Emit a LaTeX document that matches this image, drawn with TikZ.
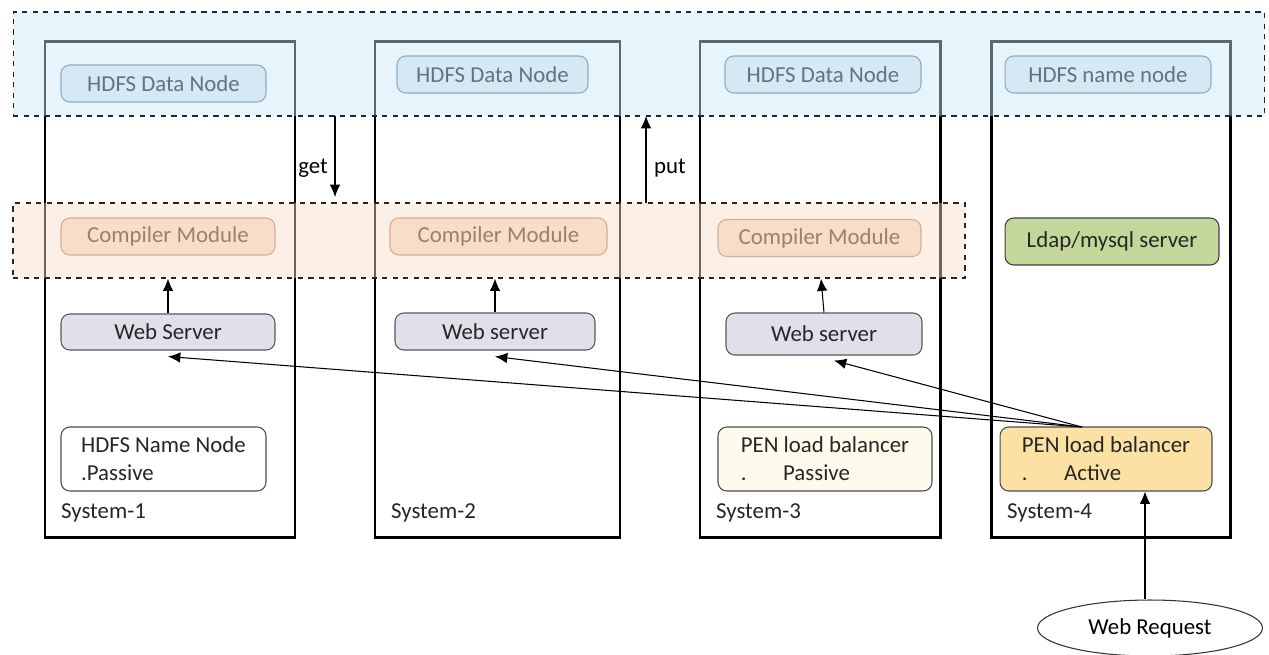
\documentclass[tikz,border=0pt]{standalone}
\usepackage{fontspec}
\setmainfont{Carlito}
\usetikzlibrary{shapes.geometric,arrows.meta}
\definecolor{bandblue}{HTML}{C8E9F9}
\definecolor{bandorange}{HTML}{F9DCC8}
\definecolor{dnfill}{HTML}{D4E9F4}
\definecolor{dndraw}{HTML}{8EABBE}
\definecolor{dntext}{HTML}{5E7385}
\definecolor{cmfill}{HTML}{FADDC8}
\definecolor{cmdraw}{HTML}{D2AE96}
\definecolor{cmtext}{HTML}{9C7F6E}
\definecolor{wsfill}{HTML}{E2DEEA}
\definecolor{ldapfill}{HTML}{C4D79B}
\definecolor{pasfill}{HTML}{FEFBEC}
\definecolor{actfill}{HTML}{FBE1A3}
\tikzset{
  sysbox/.style={draw=black,line width=1.7pt},
  band/.style={draw=black!85,dashed,line width=0.7pt},
  box/.style={rounded corners=5pt,line width=0.6pt,inner sep=0pt,font=\fontsize{13}{15}\selectfont},
  datanode/.style={box,draw=dndraw,fill=dnfill,text=dntext,minimum height=0.74cm},
  compnode/.style={box,draw=cmdraw,fill=cmfill,text=cmtext,minimum height=0.74cm},
  webnode/.style={box,draw=black!65,fill=wsfill,text=black!85},
  twoline/.style={box,draw=black!70,align=left,minimum height=1.28cm,text=black!85},
  syslabel/.style={anchor=west,font=\fontsize{13}{15}\selectfont,text=black!85},
  flow/.style={-{Latex[length=7pt,width=6pt]},line width=0.6pt}
}
\begin{document}
\begin{tikzpicture}[x=0.02cm,y=-0.02cm]
\useasboundingbox[fill=white] (0,0) rectangle (1269,654);
% the four systems
\draw[sysbox] (45,41) rectangle (295,537);
\draw[sysbox] (375,41) rectangle (620,537);
\draw[sysbox] (700,41) rectangle (940,537);
\draw[sysbox] (991,41) rectangle (1230,537);
\node[syslabel] (sys1) at (55,513) {System-1};
\node[syslabel] (sys2) at (385,513) {System-2};
\node[syslabel] (sys3) at (710,513) {System-3};
\node[syslabel] (sys4) at (1001,513) {System-4};
% dashed bands
\node[band,fill=bandblue,fill opacity=0.45,minimum width=25.04cm,minimum height=2.08cm] (hdfsband) at (639,64) {};
\node[band,fill=bandorange,fill opacity=0.45,minimum width=19.04cm,minimum height=1.5cm] (compband) at (489,240.5) {};
% HDFS row
\node[datanode,minimum width=4.1cm] (dn1) at (163.5,83.5) {HDFS Data Node};
\node[datanode,minimum width=3.82cm] (dn2) at (492.5,74.5) {HDFS Data Node};
\node[datanode,minimum width=3.92cm] (dn3) at (823,74.5) {HDFS Data Node};
\node[datanode,minimum width=4.12cm] (nn) at (1108,74.5) {HDFS name node};
% compiler row
\node[compnode,minimum width=4.28cm] (cm1) at (168,236.5) {Compiler Module};
\node[compnode,minimum width=4.34cm] (cm2) at (498.5,236.5) {Compiler Module};
\node[compnode,minimum width=4.06cm] (cm3) at (819.5,238) {Compiler Module};
\node[box,draw=black!75,fill=ldapfill,text=black!85,minimum width=4.28cm,minimum height=0.94cm] (ldap) at (1112,241.5) {Ldap/mysql server};
% web servers
\node[webnode,minimum width=4.28cm,minimum height=0.72cm] (ws1) at (168,332) {Web Server};
\node[webnode,minimum width=4cm,minimum height=0.74cm] (ws2) at (495,331.5) {Web server};
\node[webnode,minimum width=3.92cm,minimum height=0.84cm] (ws3) at (824,334) {Web server};
% bottom row
\node[twoline,fill=white,minimum width=4.1cm] (nnp) at (163.5,459) {HDFS Name Node\\[1pt].Passive};
\node[twoline,fill=pasfill,minimum width=4.28cm] (lbp) at (825,459) {PEN load balancer\\[1pt].\hspace{1.6em}Passive};
\node[twoline,fill=actfill,minimum width=4.24cm] (lba) at (1106,459) {PEN load balancer\\[1pt].\hspace{1.6em}Active};
\node[ellipse,draw=black!80,line width=0.6pt,minimum width=4.5cm,minimum height=1.12cm,font=\fontsize{13}{15}\selectfont] (wreq) at (1150,628) {Web Request};
% get / put
\coordinate (gettop) at (335,116);
\coordinate (getend) at (335,197);
\coordinate (putbot) at (646,203);
\coordinate (puttop) at (646,116);
\draw[flow] (gettop) -- (getend);
\node[font=\fontsize{13}{15}\selectfont] (getlbl) at (313,168) {get};
\draw[flow] (putbot) -- (puttop);
\node[font=\fontsize{13}{15}\selectfont] (putlbl) at (670,168) {put};
% web server to compiler
\draw[flow] (ws1.north) -- (ws1.north |- compband.south);
\draw[flow] (ws2.north) -- (ws2.north |- compband.south);
\draw[flow] (ws3.north) -- ([xshift=-0.06cm]ws3.north |- compband.south);
% load balancer fan out
\coordinate (lbout) at (1082,427);
\draw[flow] (lbout) -- ([yshift=-0.12cm]ws1.south);
\draw[flow] (lbout) -- ([yshift=-0.12cm]ws2.south);
\draw[flow] (lbout) -- ([xshift=0.2cm,yshift=-0.1cm]ws3.south);
\draw[flow] (wreq.north -| 1145,0) -- (lba.south -| 1145,0);
\end{tikzpicture}
\end{document}
